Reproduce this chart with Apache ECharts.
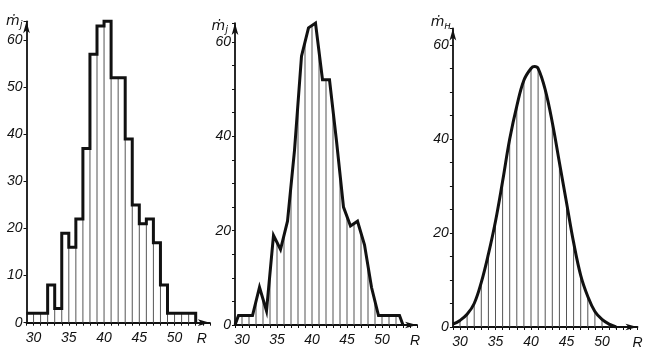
<!DOCTYPE html>
<html>
<head>
<meta charset="utf-8">
<script src="https://cdn.jsdelivr.net/npm/echarts@6/dist/echarts.min.js"></script>
<style>
html,body{margin:0;padding:0;background:#fff;}
#chart{width:657px;height:353px;}
</style>
</head>
<body>
<div id="chart"></div>
<script>
// левые границы интервалов R и частоты m*_j
var binLeft = [29,30,31,32,33,34,35,36,37,38,39,40,41,42,43,44,45,46,47,48,49,50,51,52];
var counts  = [2,2,2,8,3,19,16,22,37,57,63,64,52,52,39,25,21,22,17,8,2,2,2,2];
var binEnd = 53;

// теоретическая кривая m*_н
var curveR = [29,30,31,32,33,34,35,36,37,38,39,40,40.5,41,42,43,44,45,46,47,48,49,50,51,52];
var curveM = [0.6,1.4,2.7,5,9.5,15.5,22.5,31,40,47,52.5,55,55.4,55,50.5,43.5,35,26.5,18,11,6.5,3.3,1.6,0.6,0];

var xLabels = [30,35,40,45,50];
var yLabels1 = [0,10,20,30,40,50,60];
var yLabels23 = [0,20,40,60];

var FONT = "'Liberation Sans',sans-serif";
var INK = '#111';

function xAxisOf(idx, gap){
	return {
		gridIndex: idx, type: 'value', min: 29, max: 55, interval: 1,
		axisLine: {show: true, lineStyle: {color: INK, width: 1.8}, symbol: ['none','arrow'], symbolSize: [5, 12]},
		axisTick: {show: true, length: 3, lineStyle: {color: INK, width: 1}},
		axisLabel: {
			margin: 8, color: INK, fontSize: 14, fontStyle: 'italic', fontFamily: FONT,
			formatter: function(v){ return xLabels.indexOf(v) >= 0 ? String(v) : ''; }
		},
		splitLine: {show: false},
		name: 'R', nameLocation: 'end', nameGap: gap,
		nameTextStyle: {color: INK, fontSize: 14, fontStyle: 'italic', fontFamily: FONT, align: 'center', verticalAlign: 'top', padding: [9,0,0,0]}
	};
}

function yAxisOf(idx, max, step, labels, name, gap, pad){
	return {
		gridIndex: idx, type: 'value', min: 0, max: max, interval: step,
		axisLine: {show: true, lineStyle: {color: INK, width: 1.8}, symbol: ['none','arrow'], symbolSize: [5, 12]},
		axisTick: {show: true, length: 3, lineStyle: {color: INK, width: 1}},
		axisLabel: {
			margin: 4, color: INK, fontSize: 14, fontStyle: 'italic', fontFamily: FONT,
			formatter: function(v){ return labels.indexOf(v) >= 0 ? String(v) : ''; }
		},
		splitLine: {show: false},
		name: name, nameLocation: 'end', nameGap: gap,
		nameTextStyle: {
			color: INK, align: 'right', verticalAlign: 'middle', padding: [0, pad, 0, 0],
			rich: {
				m: {fontSize: 14, fontStyle: 'italic', fontFamily: 'DejaVu Sans', color: INK},
				s: {fontSize: 10, fontStyle: 'italic', fontFamily: 'DejaVu Sans', color: INK, padding: [8,0,0,0]}
			}
		}
	};
}

// штриховка
var hatch1 = [], hatch2 = [], hatch3 = [];
for (var i = 1; i < binLeft.length; i++) {
	hatch1.push([binLeft[i], Math.max(counts[i-1], counts[i])]);
	hatch2.push([binLeft[i], (counts[i-1] + counts[i]) / 2]);
}
for (var k = 0; k < curveR.length; k++) {
	if (curveR[k] > 29 && curveR[k] % 1 === 0) hatch3.push([curveR[k], curveM[k]]);
}

// гистограмма
var stepData = binLeft.map(function(x, i){ return [x, counts[i]]; });
stepData.push([binEnd, 0]);

// полигон
var polyData = [[binLeft[0], 0]];
binLeft.forEach(function(x, i){ polyData.push([x + 0.5, counts[i]]); });
polyData.push([binEnd, 0]);

var curveData = curveR.map(function(x, i){ return [x, curveM[i]]; });

var myChart = echarts.init(document.getElementById('chart'));
var option = {
	backgroundColor: '#fff',
	animation: false,
	grid: [
		{left: 26.5, top: 21.3, width: 183.3, height: 301.4, outerBoundsMode: 'none'},
		{left: 235, top: 23.1, width: 182, height: 301.9, outerBoundsMode: 'none'},
		{left: 452.9, top: 28.5, width: 184.6, height: 298.5, outerBoundsMode: 'none'}
	],
	xAxis: [xAxisOf(0, -8), xAxisOf(1, -2), xAxisOf(2, 0)],
	yAxis: [
		yAxisOf(0, 64, 10, yLabels1, '{m|ṁ}{s|j}', 0, 4),
		yAxisOf(1, 64, 5, yLabels23, '{m|ṁ}{s|j}', -3, 7),
		yAxisOf(2, 63.5, 5, yLabels23, '{m|ṁ}{s|н}', 6, 2)
	],
	series: [
		{type: 'bar', xAxisIndex: 0, yAxisIndex: 0, data: hatch1, barWidth: 1, itemStyle: {color: '#555'}, silent: true},
		{type: 'line', xAxisIndex: 0, yAxisIndex: 0, data: stepData, step: 'end', symbol: 'none', clip: false,
			lineStyle: {color: INK, width: 3, join: 'miter'}},
		{type: 'bar', xAxisIndex: 1, yAxisIndex: 1, data: hatch2, barWidth: 1, itemStyle: {color: '#555'}, silent: true},
		{type: 'line', xAxisIndex: 1, yAxisIndex: 1, data: polyData, symbol: 'none', clip: false,
			lineStyle: {color: INK, width: 3, join: 'miter'}},
		{type: 'bar', xAxisIndex: 2, yAxisIndex: 2, data: hatch3, barWidth: 1, itemStyle: {color: '#555'}, silent: true},
		{type: 'line', xAxisIndex: 2, yAxisIndex: 2, data: curveData, smooth: 0.4, symbol: 'none', clip: false,
			lineStyle: {color: INK, width: 3}}
	]
};
myChart.setOption(option);
</script>
</body>
</html>
